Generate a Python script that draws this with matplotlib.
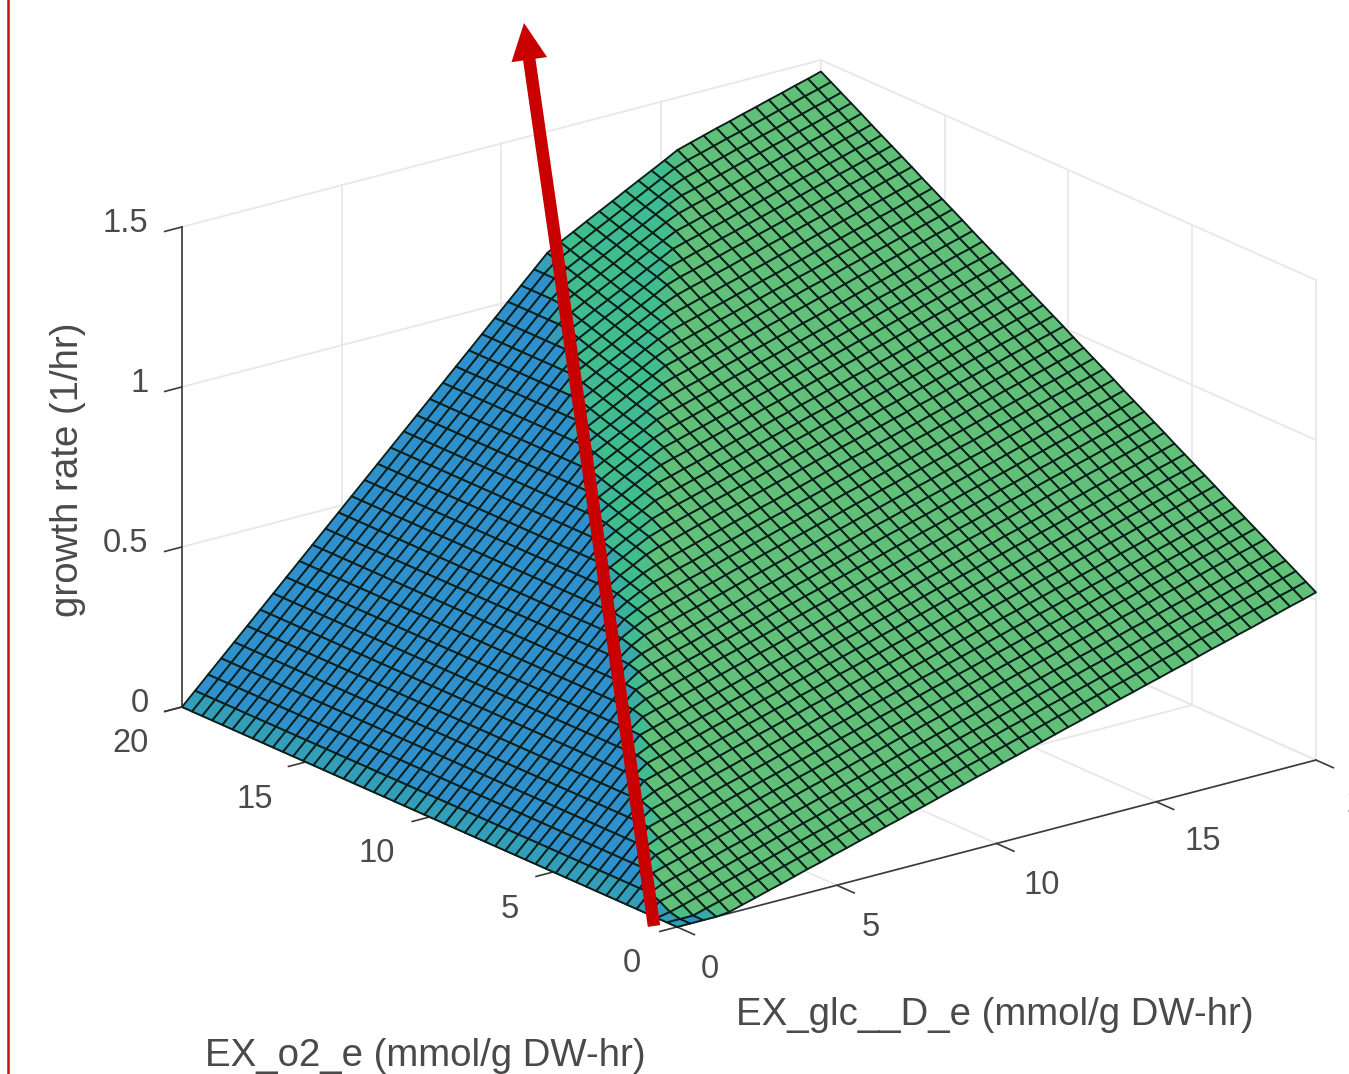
import numpy as np
import matplotlib
matplotlib.use('Agg')
import matplotlib.pyplot as plt
from matplotlib.colors import LinearSegmentedColormap
from matplotlib.patches import FancyArrow
from mpl_toolkits.mplot3d import proj3d

plt.rcParams['font.family'] = ['Liberation Sans', 'DejaVu Sans']

W, H = 1349, 1074

# axis values of the grid (50 points, 0..20 mmol/g DW-hr)
glc_uptake = np.arange(50) * 20 / 49
o2_uptake = np.arange(50) * 20 / 49

# growth rate, in 1/1000 per hr
# one row per o2 value (0 -> 20), one column per glucose value (0 -> 20)
growth_milli = [
    [0,0,0,0,4,16,27,39,50,62,74,85,97,108,120,131,143,154,166,177,189,201,212,224,235,247,258,270,281,293,305,316,328,339,351,362,374,385,397,408,420,432,443,455,466,478,489,501,512,524],
    [0,0,0,12,23,35,46,58,69,81,93,104,116,127,139,150,162,173,185,196,208,220,231,243,254,266,277,289,300,312,324,335,347,358,370,381,393,404,416,427,439,451,462,474,485,497,508,520,531,543],
    [0,8,19,31,42,54,65,77,88,100,112,123,135,146,158,169,181,192,204,215,227,239,250,262,273,285,296,308,319,331,343,354,366,377,389,400,412,423,435,446,458,470,481,493,504,516,527,539,550,562],
    [0,27,38,50,61,73,84,96,107,119,131,142,154,165,177,188,200,211,223,234,246,258,269,281,292,304,315,327,338,350,362,373,385,396,408,419,431,442,454,465,477,489,500,512,523,535,546,558,569,581],
    [0,40,57,69,80,92,103,115,126,138,150,161,173,184,196,207,219,230,242,253,265,277,288,300,311,323,334,346,357,369,381,392,404,415,427,438,450,461,473,484,496,508,519,531,542,554,565,577,588,600],
    [0,40,77,89,100,112,123,135,146,158,170,181,193,204,216,227,239,250,262,273,285,297,308,320,331,343,354,366,377,389,401,412,424,435,447,458,470,481,493,504,516,528,539,551,562,574,585,597,608,620],
    [0,40,80,108,119,131,142,154,165,177,189,200,212,223,235,246,258,269,281,292,304,316,327,339,350,362,373,385,396,408,420,431,443,454,466,477,489,500,512,523,535,547,558,570,581,593,604,616,627,639],
    [0,40,80,120,138,150,161,173,184,196,208,219,231,242,254,265,277,288,300,311,323,335,346,358,369,381,392,404,415,427,439,450,462,473,485,496,508,519,531,542,554,566,577,589,600,612,623,635,646,658],
    [0,40,80,120,157,169,180,192,203,215,227,238,250,261,273,284,296,307,319,330,342,354,365,377,388,400,411,423,434,446,458,469,481,492,504,515,527,538,550,561,573,585,596,608,619,631,642,654,665,677],
    [0,40,80,120,160,188,199,211,222,234,246,257,269,280,292,303,315,326,338,349,361,373,384,396,407,419,430,442,453,465,477,488,500,511,523,534,546,557,569,580,592,604,615,627,638,650,661,673,684,696],
    [0,40,80,120,160,200,219,231,242,254,266,277,289,300,312,323,335,346,358,369,381,393,404,416,427,439,450,462,473,485,497,508,520,531,543,554,566,577,589,600,612,624,635,647,658,670,681,693,704,716],
    [0,40,80,120,160,200,238,250,261,273,285,296,308,319,331,342,354,365,377,388,400,412,423,435,446,458,469,481,492,504,516,527,539,550,562,573,585,596,608,619,631,643,654,666,677,689,700,712,723,735],
    [0,40,80,120,160,200,240,269,280,292,304,315,327,338,350,361,373,384,396,407,419,431,442,454,465,477,488,500,511,523,535,546,558,569,581,592,604,615,627,638,650,662,673,685,696,708,719,731,742,754],
    [0,40,80,120,160,200,240,280,299,311,323,334,346,357,369,380,392,403,415,426,438,450,461,473,484,496,507,519,530,542,554,565,577,588,600,611,623,634,646,657,669,681,692,704,715,727,738,750,761,773],
    [0,40,80,120,160,200,240,280,318,330,342,353,365,376,388,399,411,422,434,445,457,469,480,492,503,515,526,538,549,561,573,584,596,607,619,630,642,653,665,676,688,700,711,723,734,746,757,769,780,792],
    [0,40,80,120,160,200,240,280,320,350,362,373,385,396,408,419,431,442,454,465,477,489,500,512,523,535,546,558,569,581,593,604,616,627,639,650,662,673,685,696,708,720,731,743,754,766,777,789,800,812],
    [0,40,80,120,160,200,240,280,320,360,381,392,404,415,427,438,450,461,473,484,496,508,519,531,542,554,565,577,588,600,612,623,635,646,658,669,681,692,704,715,727,739,750,762,773,785,796,808,819,831],
    [0,40,80,120,160,200,240,280,320,360,396,411,423,434,446,457,469,480,492,503,515,527,538,550,561,573,584,596,607,619,631,642,654,665,677,688,700,711,723,734,746,758,769,781,792,804,815,827,838,850],
    [0,40,80,120,160,200,240,280,320,360,400,428,442,453,465,476,488,499,511,522,534,546,557,569,580,592,603,615,626,638,650,661,673,684,696,707,719,730,742,753,765,777,788,800,811,823,834,846,857,869],
    [0,40,80,120,160,200,240,280,320,360,400,438,459,472,484,495,507,518,530,541,553,565,576,588,599,611,622,634,645,657,669,680,692,703,715,726,738,749,761,772,784,796,807,819,830,842,853,865,876,888],
    [0,40,80,120,160,200,240,280,320,360,400,440,470,492,504,515,527,538,550,561,573,585,596,608,619,631,642,654,665,677,689,700,712,723,735,746,758,769,781,792,804,816,827,839,850,862,873,885,896,908],
    [0,40,80,120,160,200,240,280,320,360,400,440,480,503,523,534,546,557,569,580,592,604,615,627,638,650,661,673,684,696,708,719,731,742,754,765,777,788,800,811,823,835,846,858,869,881,892,904,915,927],
    [0,40,80,120,160,200,240,280,320,360,400,440,480,514,535,553,565,576,588,599,611,623,634,646,657,669,680,692,703,715,727,738,750,761,773,784,796,807,819,830,842,854,865,877,888,900,911,923,934,946],
    [0,40,80,120,160,200,240,280,320,360,400,440,480,520,545,566,584,595,607,618,630,642,653,665,676,688,699,711,722,734,746,757,769,780,792,803,815,826,838,849,861,873,884,896,907,919,930,942,953,965],
    [0,40,80,120,160,200,240,280,320,360,400,440,480,520,556,577,598,614,626,637,649,661,672,684,695,707,718,730,741,753,765,776,788,799,811,822,834,845,857,868,880,892,903,915,926,938,949,961,972,984],
    [0,40,80,120,160,200,240,280,320,360,400,440,480,520,560,588,609,631,646,657,669,681,692,704,715,727,738,750,761,773,785,796,808,819,831,842,854,865,877,888,900,912,923,935,946,958,969,981,992,1004],
    [0,40,80,120,160,200,240,280,320,360,400,440,480,520,560,599,620,642,663,676,688,700,711,723,734,746,757,769,780,792,804,815,827,838,850,861,873,884,896,907,919,931,942,954,965,977,988,1000,1011,1023],
    [0,40,80,120,160,200,240,280,320,360,400,440,480,520,560,600,630,652,673,694,707,719,730,742,753,765,776,788,799,811,823,834,846,857,869,880,892,903,915,926,938,950,961,973,984,996,1007,1019,1030,1042],
    [0,40,80,120,160,200,240,280,320,360,400,440,480,520,560,600,640,663,684,705,726,738,749,761,772,784,795,807,818,830,842,853,865,876,888,899,911,922,934,945,957,969,980,992,1003,1015,1026,1038,1049,1061],
    [0,40,80,120,160,200,240,280,320,360,400,440,480,520,560,600,640,674,695,716,738,757,768,780,791,803,814,826,837,849,861,872,884,895,907,918,930,941,953,964,976,988,999,1011,1022,1034,1045,1057,1068,1080],
    [0,40,80,120,160,200,240,280,320,360,400,440,480,520,560,600,640,680,706,727,749,770,788,800,811,823,834,846,857,869,881,892,904,915,927,938,950,961,973,984,996,1008,1019,1031,1042,1054,1065,1077,1088,1100],
    [0,40,80,120,160,200,240,280,320,360,400,440,480,520,560,600,640,680,716,737,759,780,801,819,830,842,853,865,876,888,900,911,923,934,946,957,969,980,992,1003,1015,1027,1038,1050,1061,1073,1084,1096,1107,1119],
    [0,40,80,120,160,200,240,280,320,360,400,440,480,520,560,600,640,680,720,748,770,791,812,833,849,861,872,884,895,907,919,930,942,953,965,976,988,999,1011,1022,1034,1046,1057,1069,1080,1092,1103,1115,1126,1138],
    [0,40,80,120,160,200,240,280,320,360,400,440,480,520,560,600,640,680,720,759,781,802,823,844,866,880,891,903,914,926,938,949,961,972,984,995,1007,1018,1030,1041,1053,1065,1076,1088,1099,1111,1122,1134,1145,1157],
    [0,40,80,120,160,200,240,280,320,360,400,440,480,520,560,600,640,680,720,760,792,813,834,855,877,898,910,922,933,945,957,968,980,991,1003,1014,1026,1037,1049,1060,1072,1084,1095,1107,1118,1130,1141,1153,1164,1176],
    [0,40,80,120,160,200,240,280,320,360,400,440,480,520,560,600,640,680,720,760,800,823,844,865,887,908,929,942,953,965,977,988,1000,1011,1023,1034,1046,1057,1069,1080,1092,1104,1115,1127,1138,1150,1161,1173,1184,1196],
    [0,40,80,120,160,200,240,280,320,360,400,440,480,520,560,600,640,680,720,760,800,834,855,876,898,919,940,961,972,984,996,1007,1019,1030,1042,1053,1065,1076,1088,1099,1111,1123,1134,1146,1157,1169,1180,1192,1203,1215],
    [0,40,80,120,160,200,240,280,320,360,400,440,480,520,560,600,640,680,720,760,800,840,866,887,909,930,951,973,991,1003,1015,1026,1038,1049,1061,1072,1084,1095,1107,1118,1130,1142,1153,1165,1176,1188,1199,1211,1222,1234],
    [0,40,80,120,160,200,240,280,320,360,400,440,480,520,560,600,640,680,720,760,800,840,877,898,920,941,962,984,1005,1022,1034,1045,1057,1068,1080,1091,1103,1114,1126,1137,1149,1161,1172,1184,1195,1207,1218,1230,1241,1253],
    [0,40,80,120,160,200,240,280,320,360,400,440,480,520,560,600,640,680,720,760,800,840,880,908,930,951,972,994,1015,1036,1053,1064,1076,1087,1099,1110,1122,1133,1145,1156,1168,1180,1191,1203,1214,1226,1237,1249,1260,1272],
    [0,40,80,120,160,200,240,280,320,360,400,440,480,520,560,600,640,680,720,760,800,840,880,920,941,962,983,1005,1026,1047,1068,1084,1096,1107,1119,1130,1142,1153,1165,1176,1188,1200,1211,1223,1234,1246,1257,1269,1280,1292],
    [0,40,80,120,160,200,240,280,320,360,400,440,480,520,560,600,640,680,720,760,800,840,880,920,952,973,994,1016,1037,1058,1079,1101,1115,1126,1138,1149,1161,1172,1184,1195,1207,1219,1230,1242,1253,1265,1276,1288,1299,1311],
    [0,40,80,120,160,200,240,280,320,360,400,440,480,520,560,600,640,680,720,760,800,840,880,920,960,984,1005,1027,1048,1069,1090,1112,1133,1145,1157,1168,1180,1191,1203,1214,1226,1238,1249,1261,1272,1284,1295,1307,1318,1330],
    [0,40,80,120,160,200,240,280,320,360,400,440,480,520,560,600,640,680,720,760,800,840,880,920,960,994,1015,1037,1058,1079,1100,1122,1143,1164,1176,1187,1199,1210,1222,1233,1245,1257,1268,1280,1291,1303,1314,1326,1337,1349],
    [0,40,80,120,160,200,240,280,320,360,400,440,480,520,560,600,640,680,720,760,800,840,880,920,960,1000,1026,1048,1069,1090,1111,1133,1154,1175,1195,1206,1218,1229,1241,1252,1264,1276,1287,1299,1310,1322,1333,1345,1356,1368],
    [0,40,80,120,160,200,240,280,320,360,400,440,480,520,560,600,640,680,720,760,800,840,880,920,960,1000,1037,1059,1080,1101,1122,1144,1165,1186,1208,1226,1238,1249,1261,1272,1284,1296,1307,1319,1330,1342,1353,1365,1376,1388],
    [0,40,80,120,160,200,240,280,320,360,400,440,480,520,560,600,640,680,720,760,800,840,880,920,960,1000,1040,1070,1091,1112,1133,1155,1176,1197,1219,1240,1257,1268,1280,1291,1303,1315,1326,1338,1349,1361,1372,1384,1395,1407],
    [0,40,80,120,160,200,240,280,320,360,400,440,480,520,560,600,640,680,720,760,800,840,880,920,960,1000,1040,1080,1101,1122,1143,1165,1186,1207,1229,1250,1271,1287,1299,1310,1322,1334,1345,1357,1368,1380,1391,1403,1414,1426],
    [0,40,80,120,160,200,240,280,320,360,400,440,480,520,560,600,640,680,720,760,800,840,880,920,960,1000,1040,1080,1112,1133,1154,1176,1197,1218,1240,1261,1282,1303,1318,1329,1341,1353,1364,1376,1387,1399,1410,1422,1433,1445],
    [0,40,80,120,160,200,240,280,320,360,400,440,480,520,560,600,640,680,720,760,800,840,880,920,960,1000,1040,1080,1120,1144,1165,1187,1208,1229,1251,1272,1293,1314,1336,1348,1360,1372,1383,1395,1406,1418,1429,1441,1452,1464],
]

xy_ticks = [0, 5, 10, 15, 20]
z_ticks = [0, 0.5, 1, 1.5]

z_tick_labels = ['0', '0.5', '1', '1.5']
o2_tick_labels = ['0', '5', '10', '15', '20']
glc_tick_labels = ['0', '5', '10', '15', '20']

fig = plt.figure(figsize=(W / 100, H / 100), dpi=100)

# square 3d axes bigger than the figure so nothing gets clipped
S = 1700
ax = fig.add_axes([(W / 2 - S / 2) / W, (H / 2 - S / 2) / H, S / W, S / H],
                  projection='3d', computed_zorder=False)
ax.set_proj_type('ortho')
ax.view_init(elev=19.92, azim=-127.48)
ax.set_xlim(0, 20, view_margin=0)
ax.set_ylim(0, 20, view_margin=0)
ax.set_zlim(0, 1.5, view_margin=0)
aspect = (805, 813.5, 510.5)
ax.set_box_aspect(aspect)
ax.set_axis_off()


def to_px(x, y, z):
    px, py, _ = proj3d.proj_transform(x, y, z, ax.get_proj())
    return ax.transData.transform((px, py))


# fit the projected box on the reference corners
fig.canvas.draw()
span = to_px(20, 0, 0)[0] - to_px(0, 20, 0)[0]
ax.set_box_aspect(aspect, zoom=(1316 - 182) / span)
fig.canvas.draw()
p = to_px(0, 20, 0)
q = to_px(20, 0, 0)
dx = (182 + 1316) / 2 - (p[0] + q[0]) / 2
dy = (H - (707 + 760) / 2) - (p[1] + q[1]) / 2
pos = ax.get_position(original=True)
ax.set_position([pos.x0 + dx / W, pos.y0 + dy / H, pos.width, pos.height])
fig.canvas.draw()

# light box grid
grid_c = '#e8e8e8'
for t in xy_ticks:
    ax.plot([t, t], [0, 20], [0, 0], color=grid_c, lw=1.3, zorder=1)
    ax.plot([0, 20], [t, t], [0, 0], color=grid_c, lw=1.3, zorder=1)
    ax.plot([t, t], [20, 20], [0, 1.5], color=grid_c, lw=1.3, zorder=1)
    ax.plot([20, 20], [t, t], [0, 1.5], color=grid_c, lw=1.3, zorder=1)
for t in z_ticks:
    ax.plot([0, 20], [20, 20], [t, t], color=grid_c, lw=1.3, zorder=1)
    ax.plot([20, 20], [0, 20], [t, t], color=grid_c, lw=1.3, zorder=1)

# dark axes and ticks
axis_c = '#3a3a3a'
ax.plot([0, 0], [20, 20], [0, 1.5], color=axis_c, lw=1.2, zorder=2)
ax.plot([0, 0], [0, 20], [0, 0], color=axis_c, lw=1.2, zorder=2)
ax.plot([0, 20], [0, 0], [0, 0], color=axis_c, lw=1.2, zorder=2)
for t in z_ticks:
    ax.plot([-0.54, 0], [20, 20], [t, t], color=axis_c, lw=1.2, zorder=2)
for t in xy_ticks:
    ax.plot([-0.54, 0], [t, t], [0, 0], color=axis_c, lw=1.2, zorder=2)
    ax.plot([t, t], [-0.7, 0], [0, 0], color=axis_c, lw=1.2, zorder=2)

# surface, facet colour follows the slope along o2 like surfl does
X, Y = np.meshgrid(glc_uptake, o2_uptake)
Z = np.array(growth_milli) / 1000
d_o2 = (Z[1:, :-1] - Z[:-1, :-1] + Z[1:, 1:] - Z[:-1, 1:]) / 2
slope = np.clip(d_o2 / 0.0192, 0, 1)
slope[:, 0] = 0.18  # first glucose column is a bit more teal in the picture
cmap = LinearSegmentedColormap.from_list(
    'facets', [(0, '#2e90cc'), (0.56, '#3fbd90'), (1, '#62c078')])
ax.plot_surface(X, Y, Z, facecolors=cmap(slope), rstride=1, cstride=1, shade=False,
                edgecolor='#0a1f1a', linewidth=1.35, antialiased=True, zorder=3)

# overlay in pixel units for texts, arrow and border
ov = fig.add_axes([0, 0, 1, 1], zorder=5)
ov.set_xlim(0, W)
ov.set_ylim(H, 0)
ov.axis('off')

text_c = '#4a4a4a'
fs = 23.5
label_fs = 27.6
z_label_x = [140, 125, 140, 125]
z_label_y = [703, 544, 384, 223]
o2_label_x = [632, 510, 377, 255, 130]
o2_label_y = [964, 909, 854, 800, 744]
glc_label_x = [710, 871, 1042, 1203, 1364]
glc_label_y = [969, 927, 885, 841, 803]
for lab, x, y in zip(z_tick_labels, z_label_x, z_label_y):
    ov.text(x, y, lab, ha='center', va='center', fontsize=fs, color=text_c)
for lab, x, y in zip(o2_tick_labels, o2_label_x, o2_label_y):
    ov.text(x, y, lab, ha='center', va='center', fontsize=fs, color=text_c)
for lab, x, y in zip(glc_tick_labels, glc_label_x, glc_label_y):
    ov.text(x, y, lab, ha='center', va='center', fontsize=fs, color=text_c, clip_on=True)

ov.text(68, 470, 'growth rate (1/hr)', rotation=90, ha='center', va='center',
        fontsize=label_fs, color=text_c)
ov.text(995, 1015, 'EX_glc__D_e (mmol/g DW-hr)', ha='center', va='center',
        fontsize=label_fs, color=text_c)
ov.text(425, 1056, 'EX_o2_e (mmol/g DW-hr)', ha='center', va='center',
        fontsize=label_fs, color=text_c)

ov.add_patch(FancyArrow(654, 926, 524 - 654, 23 - 926, width=12.5, head_width=36,
                        head_length=37, length_includes_head=True,
                        facecolor='#c80000', edgecolor='none', zorder=6))
ov.plot([8, 8], [0, H], color='#c41010', lw=1.8, zorder=6)

fig.savefig('out.png', dpi=100)
